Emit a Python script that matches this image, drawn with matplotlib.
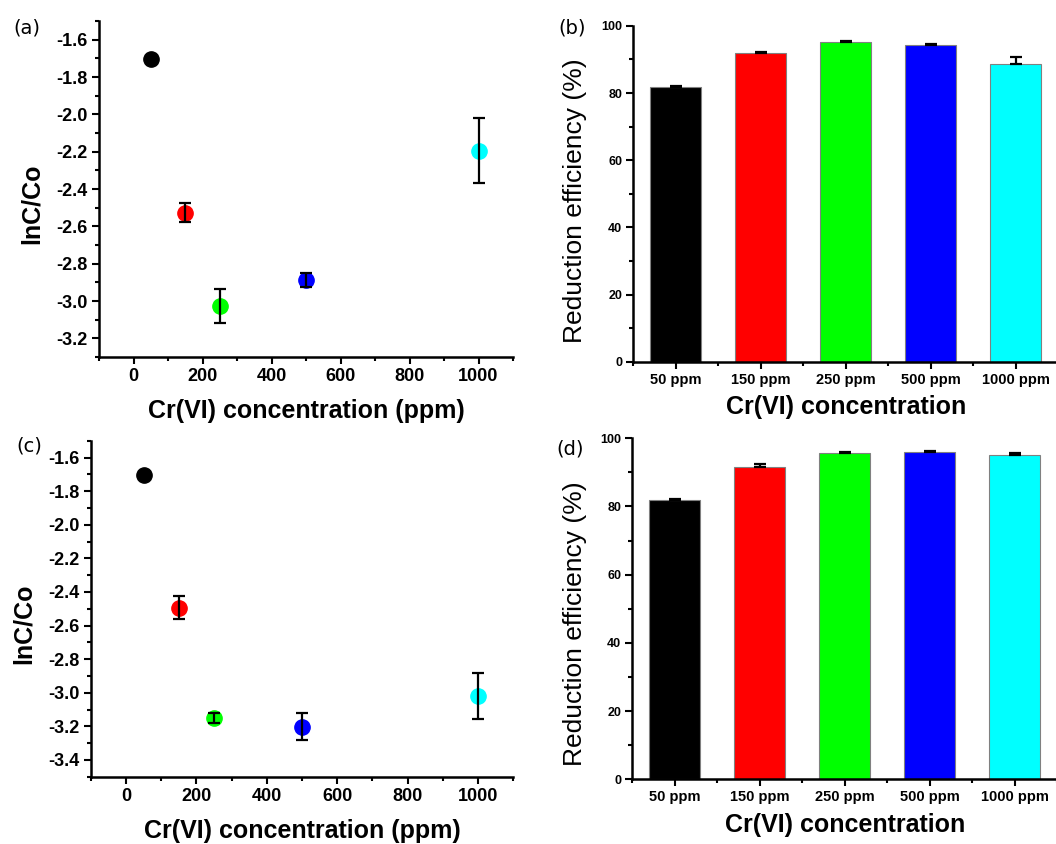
import matplotlib
matplotlib.use('Agg')
import matplotlib.pyplot as plt
from matplotlib.ticker import MultipleLocator, FixedLocator, FormatStrFormatter

plt.rcParams['font.family'] = 'Liberation Sans'
plt.rcParams['font.weight'] = 'bold'

conc = [50, 150, 250, 500, 1000]
conc_labels = ['50 ppm', '150 ppm', '250 ppm', '500 ppm', '1000 ppm']
colors = ['#000000', '#ff0000', '#00ff00', '#0000ff', '#00ffff']

# (a) lnC/Co
lnc_a = [-1.705, -2.527, -3.028, -2.887, -2.195]
lnc_a_err = [0.0, 0.05, 0.09, 0.037, 0.175]
# (b) reduction efficiency
eff_b = [81.7, 91.8, 95.1, 94.3, 88.5]
eff_b_err = [0.4, 0.4, 0.4, 0.3, 2.3]
# (c) lnC/Co
lnc_c = [-1.705, -2.493, -3.148, -3.202, -3.02]
lnc_c_err = [0.0, 0.07, 0.03, 0.08, 0.135]
# (d) reduction efficiency
eff_d = [81.8, 91.6, 95.7, 95.9, 95.1]
eff_d_err = [0.5, 0.8, 0.2, 0.3, 0.6]

fig = plt.figure(figsize=(10.56, 8.44), dpi=100)

ax_a = fig.add_axes([0.0938, 0.577, 0.392, 0.398])
ax_b = fig.add_axes([0.5997, 0.5714, 0.4025, 0.398])
ax_c = fig.add_axes([0.0859, 0.0797, 0.400, 0.398])
ax_d = fig.add_axes([0.5988, 0.0767, 0.4025, 0.404])


def style(ax):
    for s in ['top', 'right']:
        ax.spines[s].set_visible(False)
    for s in ['left', 'bottom']:
        ax.spines[s].set_linewidth(1.8)
    ax.tick_params(which='major', direction='out', length=5, width=1.5, pad=3)
    ax.tick_params(which='minor', direction='out', length=3, width=1.5)


def scatter_panel(ax, y, yerr, ylim, label_xy):
    for i in range(len(conc)):
        ax.plot(conc[i], y[i], 'o', color=colors[i], markersize=11, zorder=3)
    # error bars sit on top of the markers, as in Origin
    ax.errorbar(conc, y, yerr=yerr, fmt='none', ecolor='black',
                elinewidth=1.6, capsize=4, capthick=1.6, zorder=4)
    ax.set_xlim(-100, 1100)
    ax.set_ylim(*ylim)
    ax.xaxis.set_major_locator(MultipleLocator(200))
    ax.xaxis.set_minor_locator(MultipleLocator(100))
    ax.yaxis.set_major_locator(MultipleLocator(0.2))
    ax.yaxis.set_minor_locator(MultipleLocator(0.1))
    ax.yaxis.set_major_formatter(FormatStrFormatter('%.1f'))
    ax.tick_params(labelsize=13)
    ax.set_xlabel('Cr(VI) concentration (ppm)', fontsize=18, fontweight='bold', labelpad=10)
    ax.set_ylabel('lnC/Co', fontsize=18, fontweight='bold')
    ax.yaxis.set_label_coords(*label_xy)
    style(ax)


def bar_panel(ax, y, yerr, label_xy):
    pos = list(range(len(conc)))
    ax.bar(pos, y, width=0.6, color=colors, edgecolor='#808080', linewidth=0.8, zorder=2)
    ax.errorbar(pos, y, yerr=[[0] * len(y), yerr], fmt='none', ecolor='black',
                elinewidth=1.6, capsize=4, capthick=1.6, zorder=3)
    ax.set_xlim(-0.5, 4.5)
    ax.set_ylim(0, 100)
    ax.set_xticks(pos)
    ax.set_xticklabels(conc_labels)
    ax.xaxis.set_minor_locator(FixedLocator([-0.5, 0.5, 1.5, 2.5, 3.5, 4.5]))
    ax.yaxis.set_major_locator(MultipleLocator(20))
    ax.yaxis.set_minor_locator(MultipleLocator(10))
    ax.tick_params(axis='x', labelsize=10.5)
    ax.tick_params(axis='y', labelsize=9)
    ax.set_xlabel('Cr(VI) concentration', fontsize=18, fontweight='bold', labelpad=6)
    ax.set_ylabel('Reduction efficiency (%)', fontsize=19, fontweight='normal')
    ax.yaxis.set_label_coords(*label_xy)
    style(ax)


scatter_panel(ax_a, lnc_a, lnc_a_err, (-3.3, -1.5), (-0.133, 0.455))
bar_panel(ax_b, eff_b, eff_b_err, (-0.109, 0.48))
scatter_panel(ax_c, lnc_c, lnc_c_err, (-3.5, -1.5), (-0.129, 0.455))
bar_panel(ax_d, eff_d, eff_d_err, (-0.107, 0.455))

letters = [('(a)', 27, 28), ('(b)', 572, 28), ('(c)', 29, 446), ('(d)', 570, 449)]
for txt, px, py in letters:
    fig.text(px / 1056, 1 - py / 844, txt, fontsize=14, fontweight='normal',
             family='DejaVu Sans', ha='center', va='center')

fig.savefig('out.png', dpi=100)
